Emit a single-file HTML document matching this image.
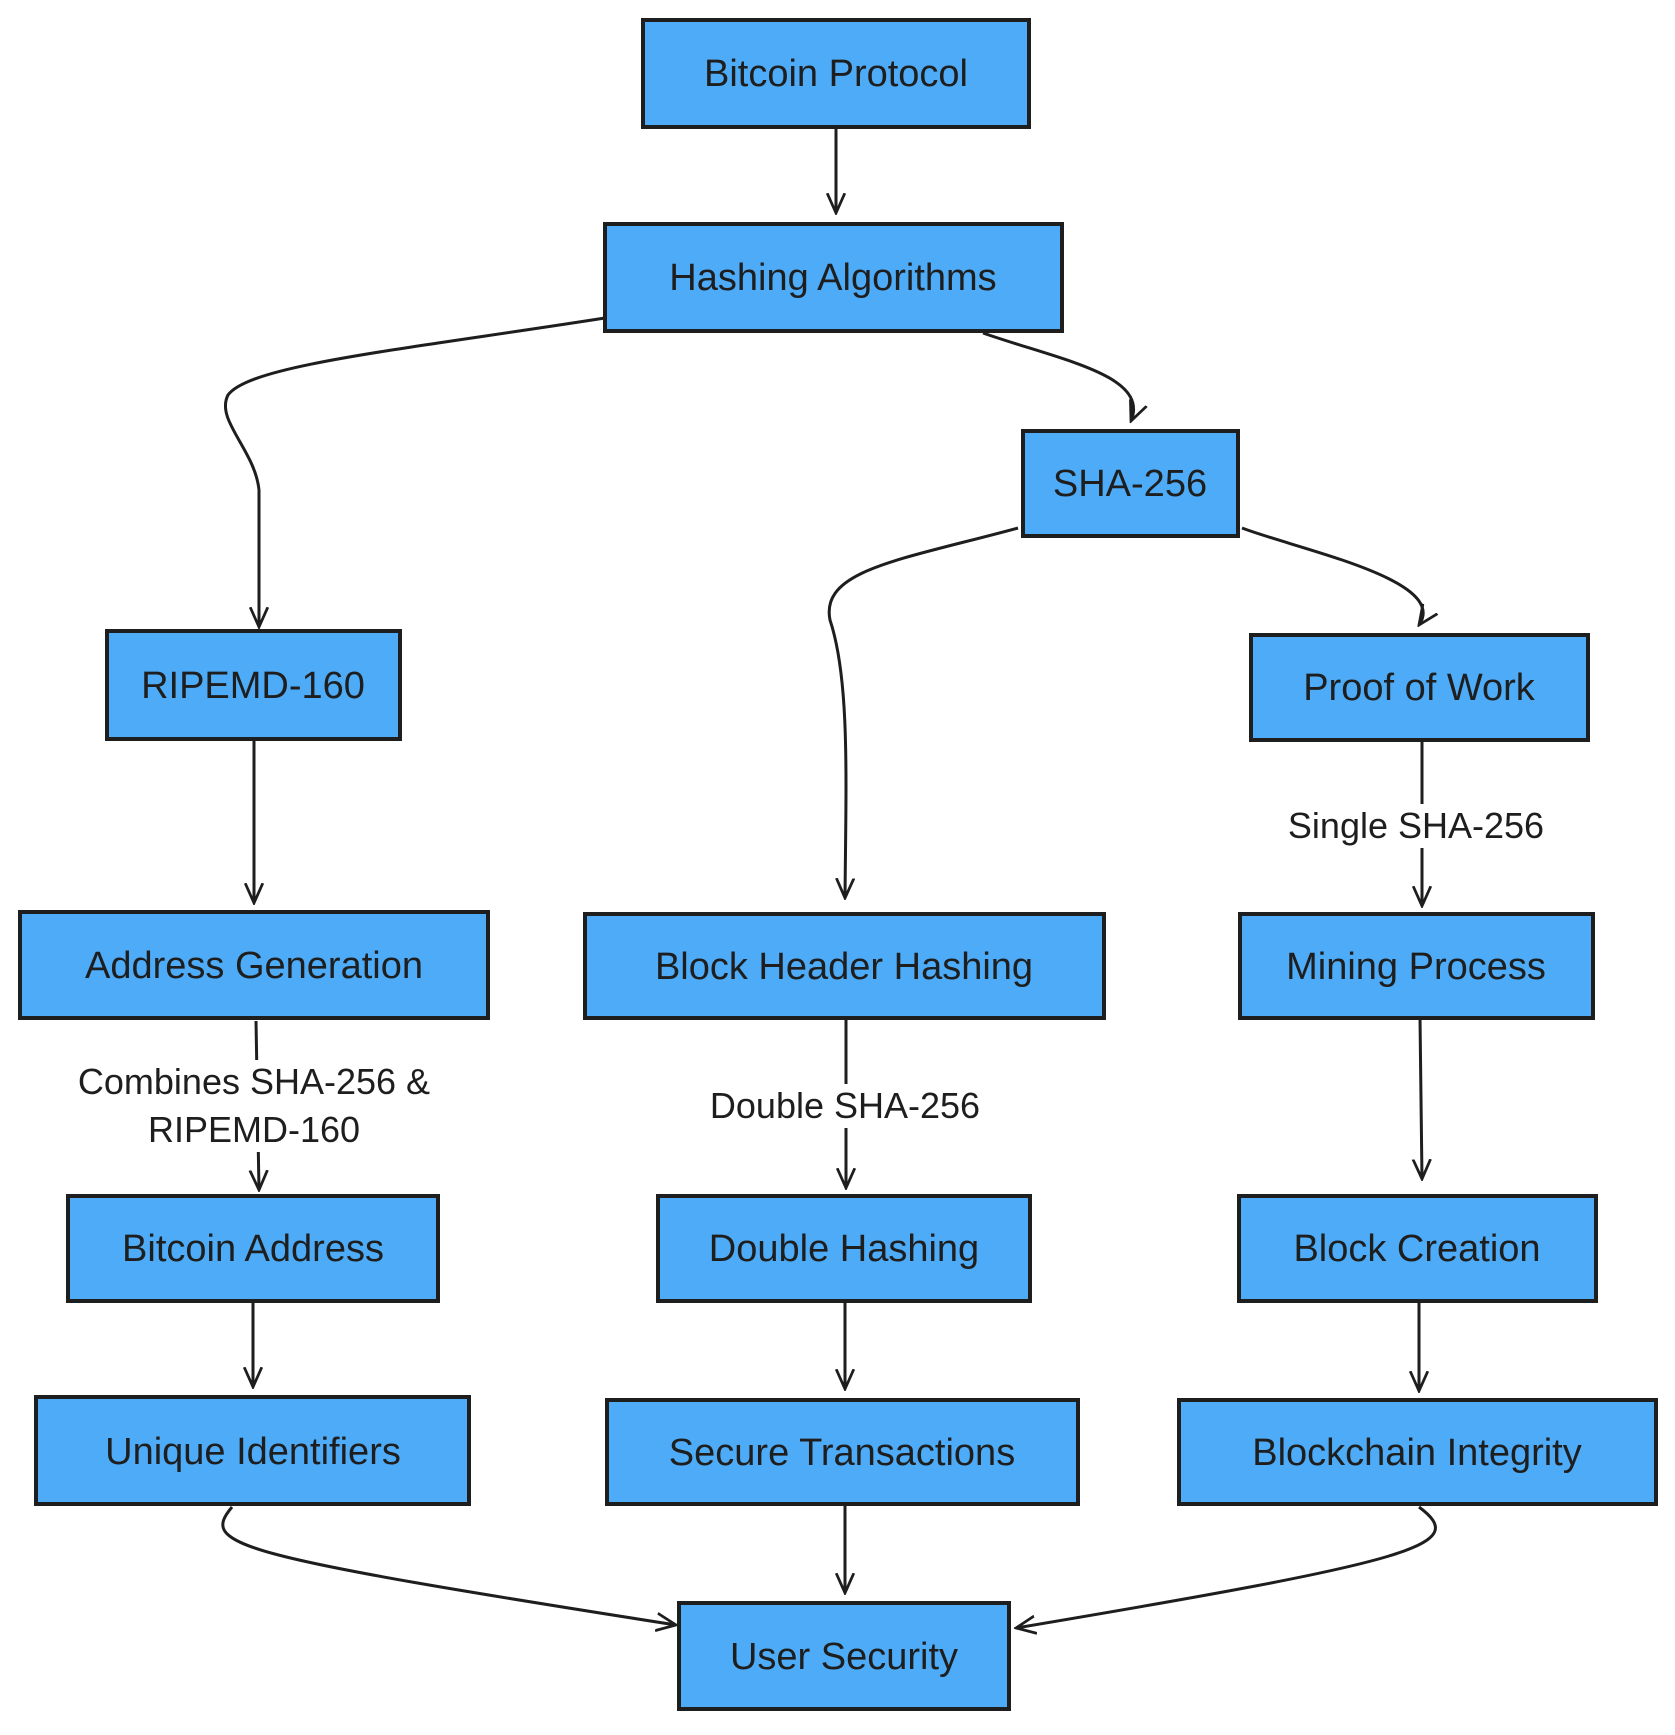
<!DOCTYPE html>
<html><head><meta charset="utf-8"><style>
html,body{margin:0;padding:0;background:#fff}
svg text{font-family:"Liberation Sans",sans-serif;fill:#1e1e1e}
</style></head><body>
<svg width="1675" height="1730" viewBox="0 0 1675 1730" xmlns="http://www.w3.org/2000/svg">
<defs>
<marker id="a" viewBox="0 0 20 20" refX="18" refY="10" markerWidth="22" markerHeight="22" markerUnits="userSpaceOnUse" orient="auto">
<path d="M0,2 L18,10 L0,18" fill="none" stroke="#1e1e1e" stroke-width="2.5"/>
</marker>
</defs>
<g fill="none" stroke="#1e1e1e" stroke-width="3" marker-end="url(#a)">
<path d="M836,127 L836,213"/>
<path d="M605,318 C400,350 250,365 228,395 C215,420 255,450 259,490 L259,627"/>
<path d="M983,333 C1060,360 1150,375 1131,421"/>
<path d="M1018,528 C900,560 820,570 830,620 C850,680 846,780 845,898"/>
<path d="M1242,528 C1300,550 1450,580 1419,625"/>
<path d="M254,740 L254,903"/>
<path d="M1422,742 L1422,906"/>
<path d="M256,1021 L259,1190"/>
<path d="M846,1018 L846,1188"/>
<path d="M1420,1018 L1422,1179"/>
<path d="M253,1300 L253,1387"/>
<path d="M845,1300 L845,1389"/>
<path d="M1419,1300 L1419,1391"/>
<path d="M845,1504 L845,1593"/>
<path d="M232,1507 C200,1545 230,1555 676,1625"/>
<path d="M1419,1507 C1470,1545 1420,1560 1016,1628"/>
</g>
<g fill="#fff" stroke="none">
<rect x="50" y="1060" width="410" height="92"/>
<rect x="680" y="1084" width="330" height="44"/>
<rect x="1266" y="804" width="300" height="44"/>
</g>
<g font-size="36" text-anchor="middle">
<text x="254" y="1094">Combines SHA-256 &amp;</text>
<text x="254" y="1142">RIPEMD-160</text>
<text x="845" y="1118">Double SHA-256</text>
<text x="1416" y="838">Single SHA-256</text>
</g>
<g fill="#4dabf7" stroke="#1e1e1e" stroke-width="4">
<rect x="643" y="20" width="386" height="107"/>
<rect x="605" y="224" width="457" height="107"/>
<rect x="1023" y="431" width="215" height="105"/>
<rect x="107" y="631" width="293" height="108"/>
<rect x="1251" y="635" width="337" height="105"/>
<rect x="20" y="912" width="468" height="106"/>
<rect x="585" y="914" width="519" height="104"/>
<rect x="1240" y="914" width="353" height="104"/>
<rect x="68" y="1196" width="370" height="105"/>
<rect x="658" y="1196" width="372" height="105"/>
<rect x="1239" y="1196" width="357" height="105"/>
<rect x="36" y="1397" width="433" height="107"/>
<rect x="607" y="1400" width="471" height="104"/>
<rect x="1179" y="1400" width="477" height="104"/>
<rect x="679" y="1603" width="330" height="106"/>
</g>
<g font-size="38" text-anchor="middle">
<text x="836" y="86">Bitcoin Protocol</text>
<text x="833" y="290">Hashing Algorithms</text>
<text x="1130" y="496">SHA-256</text>
<text x="253" y="698">RIPEMD-160</text>
<text x="1419" y="700">Proof of Work</text>
<text x="254" y="978">Address Generation</text>
<text x="844" y="979">Block Header Hashing</text>
<text x="1416" y="979">Mining Process</text>
<text x="253" y="1261">Bitcoin Address</text>
<text x="844" y="1261">Double Hashing</text>
<text x="1417" y="1261">Block Creation</text>
<text x="253" y="1464">Unique Identifiers</text>
<text x="842" y="1465">Secure Transactions</text>
<text x="1417" y="1465">Blockchain Integrity</text>
<text x="844" y="1669">User Security</text>
</g>
</svg>
</body></html>
